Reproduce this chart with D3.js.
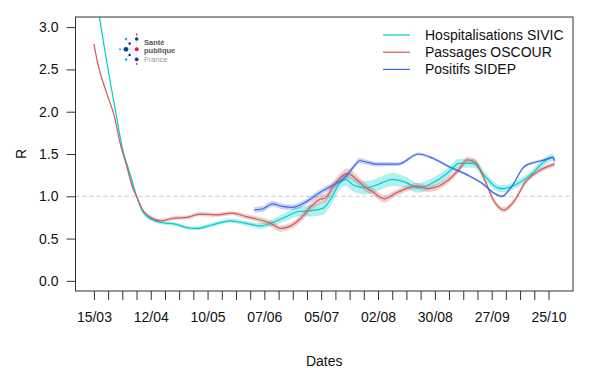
<!DOCTYPE html>
<html><head><meta charset="utf-8">
<script src="https://cdn.jsdelivr.net/npm/d3@7"></script>
<style>body{margin:0;background:#fff}svg{display:block}text{font-family:"Liberation Sans",Arial,sans-serif}</style>
</head><body><svg id="c" width="592" height="368"></svg>
<script>
// ---- data ----
const sivicDates = ["2020-03-15","2020-03-18","2020-03-20","2020-03-23","2020-03-26","2020-03-29","2020-04-02","2020-04-05","2020-04-08","2020-04-13","2020-04-17","2020-04-24","2020-04-30","2020-05-05","2020-05-12","2020-05-21","2020-05-29","2020-06-05","2020-06-10","2020-06-16","2020-06-24","2020-06-30","2020-07-06","2020-07-10","2020-07-14","2020-07-17","2020-07-21","2020-07-27","2020-08-03","2020-08-09","2020-08-15","2020-08-22","2020-08-29","2020-09-05","2020-09-11","2020-09-18","2020-09-24","2020-09-30","2020-10-03","2020-10-09","2020-10-16","2020-10-23","2020-10-27","2020-10-28"];
const sivicR  = [3.55,3.08,2.78,2.36,1.96,1.57,1.25,1.00,0.82,0.72,0.69,0.67,0.63,0.62,0.66,0.71,0.68,0.65,0.68,0.74,0.82,0.83,0.86,0.98,1.15,1.20,1.13,1.10,1.15,1.20,1.17,1.10,1.16,1.27,1.39,1.39,1.23,1.10,1.09,1.14,1.25,1.41,1.46,1.43];
const sivicCI = [0.01,0.01,0.01,0.01,0.01,0.01,0.01,0.01,0.01,0.01,0.01,0.012,0.012,0.015,0.015,0.015,0.02,0.025,0.03,0.04,0.05,0.06,0.07,0.07,0.07,0.07,0.07,0.07,0.07,0.07,0.06,0.05,0.05,0.05,0.045,0.045,0.04,0.035,0.035,0.035,0.035,0.035,0.035,0.035];

const oscourDates = ["2020-03-15","2020-03-17","2020-03-21","2020-03-25","2020-03-28","2020-03-31","2020-04-03","2020-04-05","2020-04-08","2020-04-12","2020-04-17","2020-04-23","2020-04-30","2020-05-06","2020-05-14","2020-05-22","2020-05-29","2020-06-05","2020-06-10","2020-06-15","2020-06-20","2020-06-25","2020-06-30","2020-07-04","2020-07-07","2020-07-11","2020-07-15","2020-07-18","2020-07-22","2020-07-26","2020-07-30","2020-08-05","2020-08-11","2020-08-21","2020-08-27","2020-09-05","2020-09-11","2020-09-15","2020-09-19","2020-09-24","2020-09-28","2020-10-03","2020-10-08","2020-10-14","2020-10-21","2020-10-28"];
const oscourR  = [2.80,2.56,2.24,1.95,1.62,1.37,1.11,1.00,0.84,0.75,0.71,0.74,0.75,0.79,0.78,0.80,0.76,0.72,0.68,0.62,0.65,0.74,0.88,0.96,0.98,1.12,1.23,1.27,1.21,1.12,1.06,0.97,1.04,1.12,1.09,1.18,1.32,1.43,1.40,1.17,0.95,0.84,0.94,1.18,1.31,1.38];
const oscourCI = [0.02,0.015,0.01,0.01,0.01,0.01,0.01,0.01,0.01,0.012,0.015,0.015,0.015,0.015,0.015,0.015,0.02,0.025,0.03,0.03,0.03,0.035,0.04,0.045,0.045,0.05,0.05,0.05,0.045,0.04,0.035,0.035,0.03,0.03,0.03,0.03,0.03,0.03,0.03,0.03,0.025,0.025,0.025,0.025,0.02,0.02];

const sidepDates = ["2020-06-02","2020-06-06","2020-06-11","2020-06-16","2020-06-21","2020-06-28","2020-07-04","2020-07-10","2020-07-17","2020-07-21","2020-07-24","2020-07-28","2020-08-01","2020-08-12","2020-08-22","2020-08-29","2020-09-06","2020-09-16","2020-09-23","2020-09-28","2020-10-02","2020-10-07","2020-10-13","2020-10-18","2020-10-23","2020-10-27","2020-10-28"];
const sidepR  = [0.84,0.85,0.91,0.88,0.87,0.94,1.04,1.12,1.23,1.35,1.42,1.40,1.38,1.38,1.50,1.45,1.35,1.24,1.14,1.04,1.00,1.12,1.35,1.40,1.43,1.46,1.42];
const sidepCI = [0.025,0.025,0.025,0.025,0.025,0.025,0.025,0.025,0.025,0.025,0.025,0.02,0.02,0.015,0.01,0.01,0.008,0.008,0.008,0.008,0.008,0.008,0.008,0.008,0.008,0.008,0.008];

const yTicks = [0, 0.5, 1.0, 1.5, 2.0, 2.5, 3.0];
const xTickStart = "2020-03-15", xTickEnd = "2020-10-25";
const legendLabels = ["Hospitalisations SIVIC","Passages OSCOUR","Positifs SIDEP"];
const colors = ["#00CDCD","#CD5C5C","#4169E1"];

// ---- drawing ----
const parse = d3.utcParse("%Y-%m-%d");
const svg = d3.select("#c");
const L = 75.5, R = 573, T = 17, B = 291;
const dMin = parse("2020-03-15"), dMax = parse("2020-10-28");
const span = dMax - dMin;
const x = d3.scaleUtc().domain([new Date(+dMin - 0.04*span), new Date(+dMax + 0.04*span)]).range([L, R]);
const y = d3.scaleLinear().domain([-0.12, 3.12]).range([B, T]);

svg.append("defs").append("clipPath").attr("id","clip")
  .append("rect").attr("x",L).attr("y",T).attr("width",R-L).attr("height",B-T);

// reference line
svg.append("line").attr("x1",L).attr("x2",R).attr("y1",y(1)).attr("y2",y(1))
  .attr("stroke","#c8c8c8").attr("stroke-width",1).attr("stroke-dasharray","4,3");

const series = [
  {dates:sivicDates, r:sivicR, ci:sivicCI, c:colors[0]},
  {dates:oscourDates, r:oscourR, ci:oscourCI, c:colors[1]},
  {dates:sidepDates, r:sidepR, ci:sidepCI, c:colors[2]}
];
const g = svg.append("g").attr("clip-path","url(#clip)");
const curve = d3.curveMonotoneX;
series.forEach(s => {
  const pts = s.dates.map((d,i)=>({d:parse(d), v:s.r[i], e:s.ci[i]}));
  g.append("path").datum(pts)
    .attr("d", d3.area().curve(curve).x(p=>x(p.d)).y0(p=>y(p.v-p.e-0.008)).y1(p=>y(p.v+p.e+0.008)))
    .attr("fill", s.c).attr("fill-opacity",0.3).attr("stroke","none");
});
series.forEach(s => {
  const pts = s.dates.map((d,i)=>({d:parse(d), v:s.r[i]}));
  g.append("path").datum(pts)
    .attr("d", d3.line().curve(curve).x(p=>x(p.d)).y(p=>y(p.v)))
    .attr("fill","none").attr("stroke", s.c).attr("stroke-width",1.2);
});

// box
svg.append("rect").attr("x",L).attr("y",T).attr("width",R-L).attr("height",B-T)
  .attr("fill","none").attr("stroke","#333").attr("stroke-width",1);

// y axis
const ya = svg.append("g").attr("transform",`translate(${L},0)`)
  .call(d3.axisLeft(y).tickValues(yTicks).tickFormat(d3.format(".1f")).tickSize(9).tickPadding(8));
ya.select(".domain").remove();
ya.selectAll("line").attr("stroke","#333");
ya.selectAll("text").attr("font-size",14).attr("fill","#111").attr("font-family","Liberation Sans, Arial, sans-serif");

// x axis
const weeks = d3.utcDay.range(parse(xTickStart), d3.utcDay.offset(parse(xTickEnd),1), 7);
const fmt = d3.utcFormat("%d/%m");
const xa = svg.append("g").attr("transform",`translate(0,${B})`)
  .call(d3.axisBottom(x).tickValues(weeks).tickFormat((d,i)=> i%4===0 ? fmt(d) : "").tickSize(9).tickPadding(12));
xa.select(".domain").remove();
xa.selectAll("line").attr("stroke","#333");
xa.selectAll("text").attr("font-size",14).attr("fill","#111").attr("font-family","Liberation Sans, Arial, sans-serif");

// axis titles
svg.append("text").attr("x",(L+R)/2).attr("y",366).attr("text-anchor","middle").attr("font-size",14).attr("fill","#111").text("Dates");
svg.append("text").attr("transform",`translate(21,${(T+B)/2}) rotate(-90)`).attr("text-anchor","middle").attr("dy","0.35em").attr("font-size",14).attr("fill","#111").text("R");

// legend
legendLabels.forEach((lab,i)=>{
  const yy = 35 + i*17.2;
  svg.append("line").attr("x1",383).attr("x2",410).attr("y1",yy).attr("y2",yy).attr("stroke",colors[i]).attr("stroke-width",1.2);
  svg.append("text").attr("x",425).attr("y",yy).attr("dy","0.35em").attr("font-size",14).attr("fill","#111").text(lab);
});

// logo (Santé publique France)
const logo = svg.append("g");
const lines = [[120,49.3,136.7,49.3],[126,39,136.7,59.3],[126,60,136.7,39],[136.7,34.3,136.7,64]];
lines.forEach(l=>logo.append("line").attr("x1",l[0]).attr("y1",l[1]).attr("x2",l[2]).attr("y2",l[3]).attr("stroke","#d8dde8").attr("stroke-width",0.6));
const dots = [[126,39,1.3,"#2aa9e0"],[136.7,39,1.8,"#0b3f8f"],[129.7,43.6,1.3,"#0b3f8f"],[120,49.3,1,"#2aa9e0"],[126,49.3,2.4,"#0b3f8f"],[136.7,49.3,2,"#e5195f"],[129.7,55,1.3,"#0b3f8f"],[126,59.6,1.3,"#2aa9e0"],[136.7,59.3,1.9,"#0b3f8f"],[136.7,34.5,0.9,"#e5195f"],[136.7,64,0.9,"#e5195f"]];
dots.forEach(d=>logo.append("circle").attr("cx",d[0]).attr("cy",d[1]).attr("r",d[2]).attr("fill",d[3]));
logo.append("text").attr("x",144).attr("y",44.8).attr("font-size",7.5).attr("font-weight","bold").attr("fill","#555").text("Santé");
logo.append("text").attr("x",144).attr("y",53.4).attr("font-size",7.5).attr("font-weight","bold").attr("fill","#555").text("publique");
logo.append("text").attr("x",144).attr("y",62).attr("font-size",7.5).attr("fill","#999").text("France");
</script></body></html>
